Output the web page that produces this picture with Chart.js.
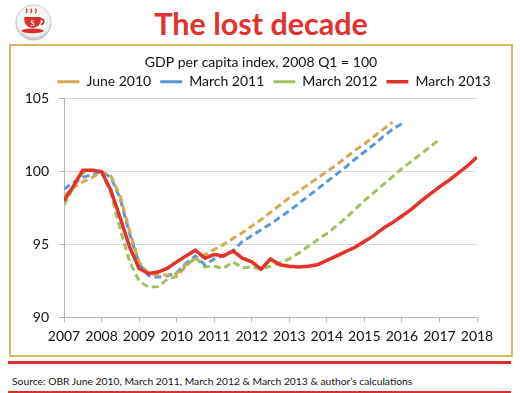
<!DOCTYPE html>
<html>
<head>
<meta charset="utf-8">
<script src="https://cdn.jsdelivr.net/npm/chart.js@4/dist/chart.umd.min.js"></script>
<style>
  body { margin: 0; width: 520px; height: 393px; background: #fff; position: relative; overflow: hidden; font-family: Lato, 'Open Sans', sans-serif; }
  .logo { position: absolute; left: 15px; top: 4px; width: 37px; height: 37px; }
  .heading { position: absolute; left: 0; width: 522px; top: 5px; text-align: center; color: #e0332b; font-weight: bold; font-size: 30.5px; line-height: 36px; }
  .frame { position: absolute; left: 9px; top: 44px; width: 500px; height: 309px; border: 2px solid #d8b766; }
  .chart-wrap { position: absolute; left: 11px; top: 48px; width: 499px; height: 306px; }
  .rule { position: absolute; left: 8px; width: 503px; height: 3px; background: #d9302a; }
  .source { position: absolute; left: 12px; top: 375px; font-size: 10.3px; color: #111; }
</style>
</head>
<body>
<svg class="logo" viewBox="0 0 40 40">
  <defs>
    <radialGradient id="rim" cx="50%" cy="40%" r="60%">
      <stop offset="0%" stop-color="#ffffff"/>
      <stop offset="80%" stop-color="#f2f2f2"/>
      <stop offset="100%" stop-color="#b8b8b8"/>
    </radialGradient>
  </defs>
  <circle cx="20" cy="20" r="19" fill="url(#rim)" stroke="#c4c4c4" stroke-width="1"/>
  <path d="M12 10 q2 -3 0 -5 M17 10 q2 -3 0 -5 M22 10 q2 -3 0 -5" stroke="#d9302a" stroke-width="1.3" fill="none"/>
  <path d="M10 14 h18 v3 a9 9 0 0 1 -18 0 z" fill="#d9302a"/>
  <path d="M28 16 a3 3 0 0 1 0 6" stroke="#d9302a" stroke-width="2" fill="none"/>
  <ellipse cx="19" cy="29" rx="12" ry="2.5" fill="#d9302a"/>
  <text x="19" y="23.5" font-size="8" font-family="Liberation Serif, serif" font-weight="bold" fill="#fff" text-anchor="middle">S</text>
</svg>
<div class="heading">The lost decade</div>
<div class="frame"></div>
<div class="chart-wrap"><canvas id="gdpChart"></canvas></div>
<div class="rule" style="top:361px"></div>
<div class="source">Source: OBR June 2010, March 2011, March 2012 &amp; March 2013 &amp; author’s calculations</div>
<div class="rule" style="top:391px"></div>

<script>
// quarters 2007 Q1 .. 2018 Q1
const quarters = [];
for (let y = 2007; y <= 2018; y++) {
    for (let q = 1; q <= 4; q++) {
        if (y === 2018 && q > 1) break;
        quarters.push(y + ' Q' + q);
    }
}

const yearTicks = [2007, 2008, 2009, 2010, 2011, 2012, 2013, 2014, 2015, 2016, 2017, 2018];
const valueTicks = [90, 95, 100, 105];

// OBR forecast vintages, GDP per capita index (2008 Q1 = 100)
const june2010 = [
    98.3, 98.9, 99.3, 99.6,
    100.0, 99.7, 98.3, 95.9,
    93.8, 93.0, 92.9, 92.9,
    93.0, 93.6, 94.0, 94.3,
    94.65, 95.0, 95.4, 95.8,
    96.25, 96.7, 97.2, 97.7,
    98.2, 98.65, 99.1, 99.55,
    100.0, 100.45, 100.95, 101.45,
    101.9, 102.4, 102.9, 103.4,
    null, null, null, null, null, null, null, null, null
];
const march2011 = [
    98.8, 99.25, 99.6, 99.8,
    100.0, 99.6, 98.1, 95.7,
    93.7, 92.85, 92.75, 92.85,
    93.05, 93.7, 94.2, 93.6,
    94.0, 94.2, 94.55, 95.2,
    95.6, 96.0, 96.4, 96.85,
    97.3, 97.8, 98.3, 98.8,
    99.3, 99.8, 100.3, 100.85,
    101.35, 101.85, 102.4, 102.9,
    103.3, null, null, null, null, null, null, null, null
];
const march2012 = [
    97.7, 98.9, 99.9, 100.1,
    100.0, 98.5, 96.0, 93.8,
    92.5, 92.05, 92.1, 92.6,
    92.8, 93.5, 94.1, 93.45,
    93.5, 93.35, 93.8, 93.4,
    93.45, 93.3, 93.5, 93.75,
    94.0, 94.4, 94.85, 95.3,
    95.75, 96.25, 96.8, 97.4,
    98.0, 98.55, 99.1, 99.65,
    100.2, 100.7, 101.2, 101.7,
    102.2, null, null, null, null
];
const march2013 = [
    98.0, 99.0, 100.1, 100.1,
    100.0, 98.7, 96.8, 94.8,
    93.35, 93.0, 93.1, 93.35,
    93.8, 94.2, 94.6, 94.05,
    94.3, 94.2, 94.55, 94.05,
    93.8, 93.3, 94.0, 93.6,
    93.5, 93.45, 93.5, 93.6,
    93.9, 94.2, 94.5, 94.8,
    95.2, 95.6, 96.1, 96.5,
    96.95, 97.4, 97.95, 98.45,
    98.95, 99.4, 99.9, 100.4,
    101.0
];

// '2009 Q3' -> 2009.5
function quarterToX(label) {
    const parts = label.split(' Q');
    return Number(parts[0]) + (Number(parts[1]) - 1) / 4;
}

function toPoints(values) {
    const pts = [];
    values.forEach((v, i) => {
        if (v !== null) pts.push({ x: quarterToX(quarters[i]), y: v });
    });
    return pts;
}

function dashed(label, values, color) {
    return {
        label: label,
        data: toPoints(values),
        borderColor: color,
        backgroundColor: color,
        borderWidth: 3,
        borderDash: [7, 4],
        pointRadius: 0,
        tension: 0,
        order: 1
    };
}

// title and legend in the original sit right of the plot's centre
const headerNudge = {
    id: 'headerNudge',
    afterLayout(chart) {
        chart.titleBlock.left += 17;
        chart.titleBlock.right += 17;
        chart.legend.left += 30;
        chart.legend.right += 30;
    }
};

const ctx = document.getElementById('gdpChart').getContext('2d');

new Chart(ctx, {
    type: 'line',
    data: {
        datasets: [
            dashed('June 2010', june2010, '#d2aa4f'),
            dashed('March 2011', march2011, '#5b96d6'),
            dashed('March 2012', march2012, '#a2c15f'),
            {
                label: 'March 2013',
                data: toPoints(march2013),
                borderColor: '#e2322b',
                backgroundColor: '#e2322b',
                borderWidth: 3.5,
                pointRadius: 0,
                tension: 0,
                order: 0
            }
        ]
    },
    plugins: [headerNudge],
    options: {
        responsive: true,
        maintainAspectRatio: false,
        animation: false,
        layout: { padding: { left: 0, right: 33, top: 0, bottom: 3 } },
        plugins: {
            tooltip: { enabled: false },
            title: {
                display: true,
                text: 'GDP per capita index, 2008 Q1 = 100',
                color: '#111',
                font: { family: 'Lato', size: 14, weight: 'normal' },
                padding: { top: 6, bottom: -5 }
            },
            legend: {
                position: 'top',
                labels: {
                    color: '#111',
                    font: { family: 'Lato', size: 14 },
                    usePointStyle: true,
                    pointStyleWidth: 22,
                    pointStyle: 'line',
                    padding: 9,
                    sort: (a, b) => a.datasetIndex - b.datasetIndex
                }
            }
        },
        scales: {
            x: {
                type: 'linear',
                min: 2007,
                max: 2018,
                afterBuildTicks: (scale) => { scale.ticks = yearTicks.map(v => ({ value: v })); },
                ticks: {
                    color: '#111',
                    font: { family: 'Lato', size: 14 },
                    padding: 6,
                    maxRotation: 0,
                    callback: (v) => String(v)
                },
                grid: { drawOnChartArea: false, drawTicks: true, tickLength: 5, color: '#b5b5b5' },
                border: { display: true, color: '#b5b5b5' }
            },
            y: {
                min: 90,
                max: 105,
                afterBuildTicks: (scale) => { scale.ticks = valueTicks.map(v => ({ value: v })); },
                afterFit: (scale) => { scale.width = 53; },
                ticks: {
                    color: '#111',
                    font: { family: 'Lato', size: 14 },
                    padding: 10
                },
                grid: { color: '#d9d9d9', drawTicks: true, tickLength: 5, tickColor: '#b5b5b5' },
                border: { display: true, color: '#b5b5b5' }
            }
        }
    }
});
</script>
</body>
</html>
